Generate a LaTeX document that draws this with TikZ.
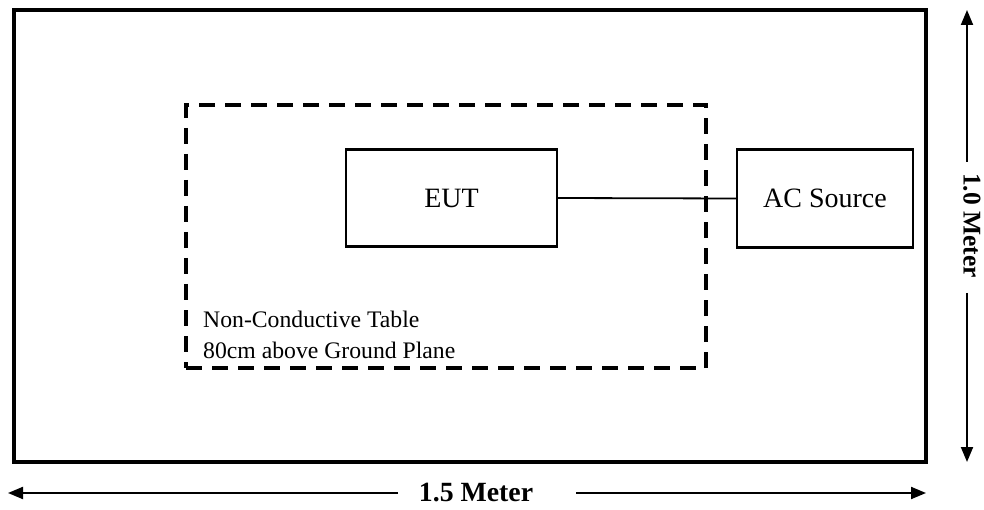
\documentclass[tikz,border=0pt]{standalone}
\usepackage{fontspec}
\setmainfont{Liberation Serif}
\usetikzlibrary{arrows.meta}
\begin{document}
\begin{tikzpicture}[x=1pt,y=-1pt,
  boxnode/.style={draw,line width=2.2pt,inner sep=0pt,font=\fontsize{28}{33}\selectfont},
  planenode/.style={draw,line width=4pt,inner sep=0pt},
  tablenode/.style={draw,line width=4pt,dash pattern=on 16pt off 10pt,inner sep=0pt},
  dimarrow/.style={line width=2pt,-{Triangle[length=15pt,width=12pt]}},
  dimlabel/.style={font=\bfseries\fontsize{27.8}{33}\selectfont,inner sep=0pt},
  wire/.style={line width=1.8pt}]
\useasboundingbox (0,0) rectangle (984,510);
\fill[white] (0,0) rectangle (984,510);
\node[planenode,minimum width=912pt,minimum height=452pt] (plane) at (470,236) {};
\node[tablenode,minimum width=520pt,minimum height=263pt] (table) at (446,236.5) {};
\node[boxnode,minimum width=211pt,minimum height=97pt] (eut) at (451.5,198) {EUT};
\node[boxnode,minimum width=176pt,minimum height=98pt] (ac) at (825,198.5) {AC Source};
\draw[wire] (eut.east) -- (ac.west);
\node[anchor=north west,inner sep=0pt,align=left,font=\fontsize{23.7}{31}\selectfont] (lbl) at (203,310.5) {Non-Conductive Table\\80cm above Ground Plane};
% vertical dimension
\node[dimlabel,font=\bfseries\fontsize{25.5}{30}\selectfont,rotate=-90] (vlab) at (972,225.5) {1.0 Meter};
\coordinate (vtop) at (967,10);
\coordinate (vbot) at (967,462);
\coordinate (vgapa) at (967,162);
\coordinate (vgapb) at (967,293);
\draw[dimarrow] (vgapa) -- (vtop);
\draw[dimarrow] (vgapb) -- (vbot);
% horizontal dimension
\node[dimlabel] (hlab) at (476,493) {1.5 Meter};
\coordinate (hleft) at (8,493);
\coordinate (hright) at (926,493);
\coordinate (hgapa) at (398,493);
\coordinate (hgapb) at (576,493);
\draw[dimarrow] (hgapa) -- (hleft);
\draw[dimarrow] (hgapb) -- (hright);
\end{tikzpicture}
\end{document}
